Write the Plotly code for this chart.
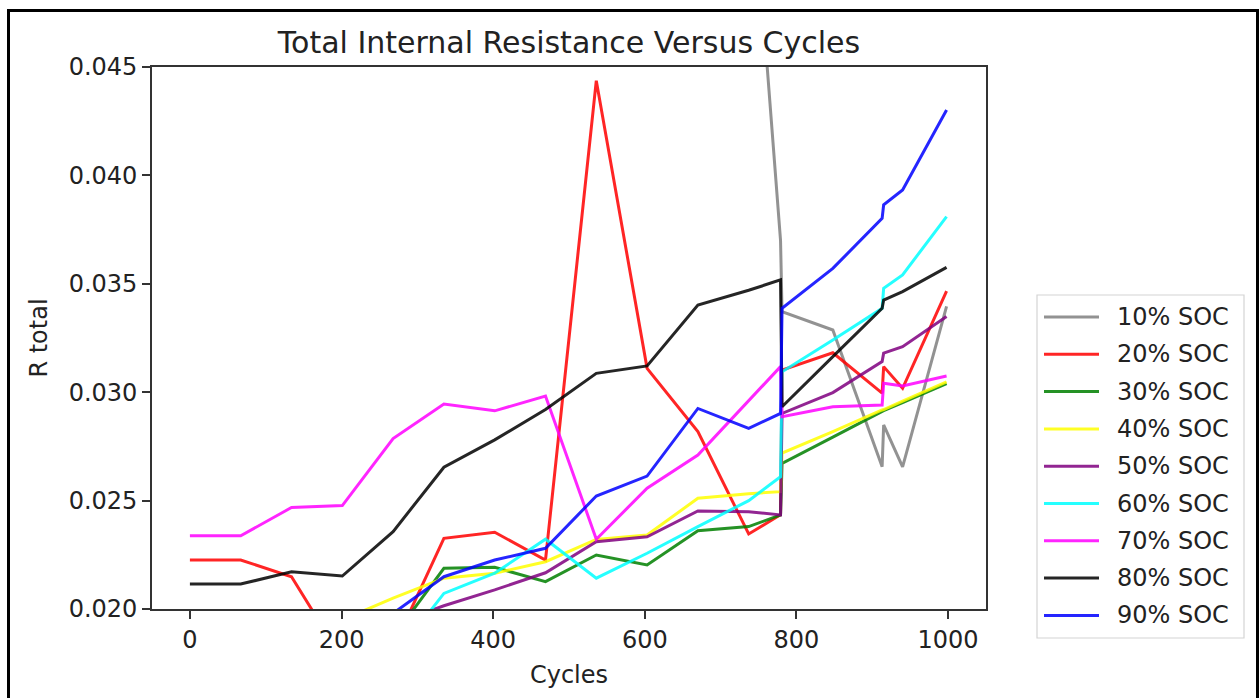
import plotly.graph_objects as go

# Cycle counts shared by every state-of-charge series
cycles = [0, 67, 134, 201, 268, 335, 402, 469, 536, 603, 670, 737,
          779, 781, 848, 913, 915, 940, 998]

# Total internal resistance (ohm) per state of charge
soc_10 = [None, None, None, None, None, None, None, None, None, None, None,
          0.0561, 0.0370, 0.03371, 0.03287, 0.02656, 0.02849, 0.02656, 0.03396]
soc_20 = [0.02226, 0.02226, 0.02149, 0.0177, 0.0182, 0.02326, 0.02354, 0.02226,
          0.04437, 0.0311, 0.02818, 0.02346, 0.02435, 0.03102, 0.03182, 0.02996,
          0.03118, 0.03018, 0.03466]
soc_30 = [None, None, None, None, 0.0187, 0.02188, 0.02192, 0.02126, 0.02249,
          0.02203, 0.02361, 0.0238, 0.02434, 0.02672, 0.02793, 0.0291, 0.02915,
          0.02952, 0.0304]
soc_40 = [None, None, None, 0.0195, 0.0205, 0.02142, 0.02165, 0.02218, 0.02321,
          0.02341, 0.02511, 0.02532, 0.02541, 0.02719, 0.02818, 0.02918, 0.0292,
          0.02959, 0.03048]
soc_50 = [None, None, None, None, 0.0193, 0.02015, 0.02088, 0.02167, 0.0231,
          0.02333, 0.02452, 0.02449, 0.02434, 0.02902, 0.02998, 0.03141, 0.0318,
          0.0321, 0.03349]
soc_60 = [None, None, None, None, 0.0177, 0.02072, 0.02165, 0.02322, 0.02142,
          0.02257, 0.0238, 0.0250, 0.0261, 0.03094, 0.03241, 0.03387, 0.03479,
          0.03541, 0.0381]
soc_70 = [0.02338, 0.02338, 0.02468, 0.02477, 0.02786, 0.02945, 0.02914, 0.02982,
          0.02322, 0.02557, 0.0271, 0.0296, 0.03118, 0.02887, 0.02933, 0.02941,
          0.03041, 0.03029, 0.03075]
soc_80 = [0.02115, 0.02115, 0.02172, 0.02152, 0.02357, 0.02654, 0.0278, 0.0292,
          0.03087, 0.03121, 0.03402, 0.0347, 0.03518, 0.02933, 0.03164, 0.03387,
          0.03425, 0.03464, 0.03576]
soc_90 = [None, None, None, None, 0.0198, 0.02149, 0.02226, 0.0228, 0.02521,
          0.02613, 0.02925, 0.02833, 0.02902, 0.03387, 0.03571, 0.03802, 0.03864,
          0.03933, 0.04302]

series_names = ["10% SOC", "20% SOC", "30% SOC", "40% SOC", "50% SOC",
                "60% SOC", "70% SOC", "80% SOC", "90% SOC"]
series_values = [soc_10, soc_20, soc_30, soc_40, soc_50, soc_60, soc_70, soc_80, soc_90]
series_colors = ["#808080", "#ff0000", "#008000", "#ffff00", "#800080",
                 "#00ffff", "#ff00ff", "#000000", "#0000ff"]

x_ticks = [0, 200, 400, 600, 800, 1000]
y_ticks = [0.020, 0.025, 0.030, 0.035, 0.040, 0.045]
y_tick_labels = ["0.020", "0.025", "0.030", "0.035", "0.040", "0.045"]

# Page geometry (pixels)
W, H = 1259, 698
L, R, T, B = 152, 986, 67, 609
PW, PH = R - L, B - T


def paper_x(px):
    return (px - L) / PW


def paper_y(py):
    return (B - py) / PH


FONT = "DejaVu Sans"
TEXT = "#222222"
LINE_ALPHA = 0.85

fig = go.Figure()
for name, vals, col in zip(series_names, series_values, series_colors):
    fig.add_trace(go.Scatter(
        x=cycles, y=vals, mode="lines", name=name,
        line=dict(color=col, width=3), opacity=LINE_ALPHA,
        showlegend=False,
    ))

shapes = []
annotations = []

# Legend panel to the right of the axes
shapes.append(dict(type="rect", xref="paper", yref="paper",
                   x0=paper_x(1037), x1=paper_x(1244),
                   y0=paper_y(638), y1=paper_y(295),
                   line=dict(color="#d4d4d4", width=1.2), fillcolor="white",
                   layer="above"))
row0, row_step = 317, 37.3
for i, (name, col) in enumerate(zip(series_names, series_colors)):
    yy = paper_y(row0 + i * row_step)
    shapes.append(dict(type="line", xref="paper", yref="paper",
                       x0=paper_x(1044), x1=paper_x(1099), y0=yy, y1=yy,
                       line=dict(color=col, width=3), opacity=LINE_ALPHA,
                       layer="above"))
    annotations.append(dict(xref="paper", yref="paper", x=paper_x(1115), y=yy,
                            text=name, showarrow=False, xanchor="left",
                            yanchor="middle",
                            font=dict(family=FONT, size=24, color=TEXT)))

# Outer frame around the figure
shapes.append(dict(type="rect", xref="paper", yref="paper",
                   x0=paper_x(8.5), x1=paper_x(1257.5),
                   y0=paper_y(730), y1=paper_y(10.5),
                   line=dict(color="black", width=3), fillcolor="rgba(0,0,0,0)",
                   layer="above"))

fig.update_layout(
    width=W, height=H,
    margin=dict(l=L, r=W - R, t=T, b=H - B, pad=0),
    paper_bgcolor="white", plot_bgcolor="white",
    font=dict(family=FONT, size=24, color=TEXT),
    title=dict(text="Total Internal Resistance Versus Cycles",
               x=0.5, xref="paper", xanchor="center",
               y=1 - 42 / H, yanchor="middle",
               font=dict(family=FONT, size=30, color=TEXT)),
    shapes=shapes,
    annotations=annotations,
    showlegend=False,
)

axis_common = dict(showgrid=False, zeroline=False, showline=True,
                   linecolor="#333333", linewidth=1.6, mirror=True,
                   ticks="outside", ticklen=8, tickwidth=1.6, tickcolor="#333333",
                   tickfont=dict(family=FONT, size=24, color=TEXT))

fig.update_xaxes(range=[-50, 1050], tickvals=x_ticks,
                 title=dict(text="Cycles", standoff=14,
                            font=dict(family=FONT, size=24, color=TEXT)),
                 **axis_common)
fig.update_yaxes(range=[0.020, 0.045], tickvals=y_ticks, ticktext=y_tick_labels,
                 title=dict(text="R total", standoff=14,
                            font=dict(family=FONT, size=24, color=TEXT)),
                 **axis_common)

fig.write_html("out.html")
